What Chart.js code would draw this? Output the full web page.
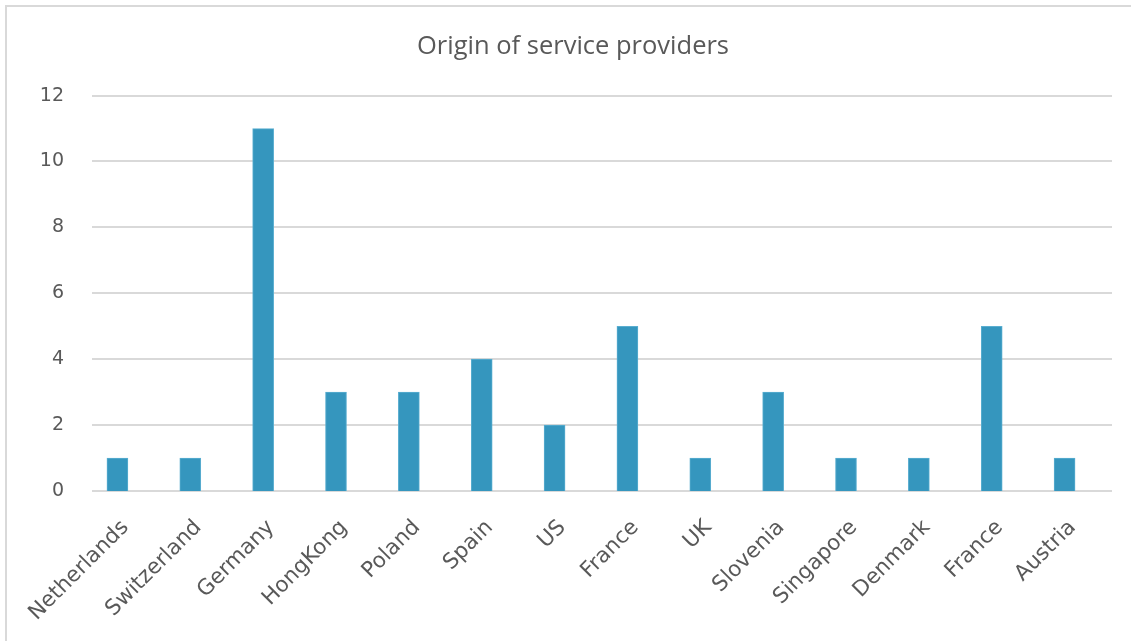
<!DOCTYPE html>
<html>
<head>
<meta charset="utf-8">
<script src="https://cdn.jsdelivr.net/npm/chart.js@4/dist/chart.umd.min.js"></script>
<style>
  html, body { margin: 0; padding: 0; background: #fff; overflow: hidden; }
  #frame {
    position: absolute; left: 5px; top: 5px; width: 1140px; height: 650px;
    border: 2px solid #d9d9d9; box-sizing: border-box;
  }
  #wrap { position: absolute; left: 0; top: 0; width: 1146px; height: 641px; }
</style>
</head>
<body>
<div id="frame"></div>
<div id="wrap"><canvas id="chart"></canvas></div>
<script>
// Data
const countries = ['Netherlands', 'Switzerland', 'Germany', 'HongKong', 'Poland', 'Spain', 'US',
                   'France', 'UK', 'Slovenia', 'Singapore', 'Denmark', 'France', 'Austria'];
const providers = [1, 1, 11, 3, 3, 4, 2, 5, 1, 3, 1, 1, 5, 1];
const yTicks = [0, 2, 4, 6, 8, 10, 12];

const textColor = '#595959';
const gridColor = '#d9d9d9';

// gridlines sit a little right of the category band, like the original
const shiftedGrid = {
    id: 'shiftedGrid',
    beforeDatasetsDraw(chart) {
        const y = chart.scales.y;
        const area = chart.chartArea;
        const c = chart.ctx;
        c.save();
        c.strokeStyle = gridColor;
        c.lineWidth = 2;
        y.ticks.forEach(t => {
            const py = Math.round(y.getPixelForValue(t.value));
            c.beginPath();
            c.moveTo(area.left + 11, py);
            c.lineTo(area.right + 11, py);
            c.stroke();
        });
        c.restore();
    }
};

const ctx = document.getElementById('chart').getContext('2d');
const chart = new Chart(ctx, {
    type: 'bar',
    data: {
        labels: countries,
        datasets: [{
            label: 'Providers',
            data: providers,
            backgroundColor: '#3596be',
            borderColor: '#5aaed0',
            borderWidth: 1,
            barThickness: 21
        }]
    },
    plugins: [shiftedGrid],
    options: {
        responsive: true,
        maintainAspectRatio: false,
        animation: false,
        layout: { padding: 0 },
        plugins: {
            legend: { display: false },
            tooltip: { enabled: false },
            title: {
                display: true,
                text: 'Origin of service providers',
                color: textColor,
                font: { family: 'Open Sans', size: 25.5, weight: 'normal' },
                padding: { top: 31, bottom: 34 }
            }
        },
        scales: {
            x: {
                grid: { display: false },
                border: { display: false },
                ticks: {
                    color: textColor,
                    font: { family: 'DejaVu Sans', size: 21.5 },
                    minRotation: 45,
                    maxRotation: 45,
                    padding: 16,
                    labelOffset: 8,
                    autoSkip: false
                },
                afterFit: function(scale) { scale.height = 150; }
            },
            y: {
                min: 0,
                max: 12,
                afterBuildTicks: function(scale) {
                    scale.ticks = yTicks.map(v => ({ value: v }));
                },
                grid: { display: false },
                border: { display: false },
                ticks: {
                    color: textColor,
                    font: { family: 'DejaVu Sans', size: 19 },
                    padding: 9
                },
                afterFit: function(scale) { scale.width = 81; }
            },
            // empty right-hand axis, only reserves space
            yRight: {
                position: 'right',
                grid: { display: false },
                border: { display: false },
                ticks: { display: false },
                afterFit: function(scale) { scale.width = 45; }
            }
        }
    }
});
</script>
</body>
</html>
